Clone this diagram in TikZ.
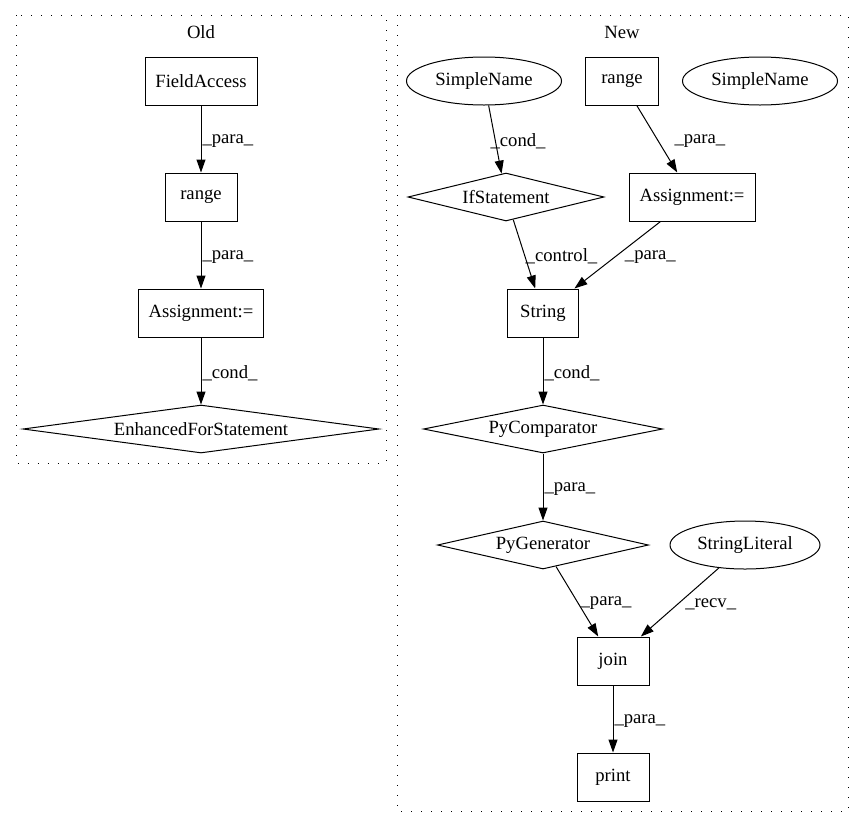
\documentclass[tikz,border=0pt]{standalone}
\usepackage{fontspec}
\setmainfont{Liberation Serif}
\usetikzlibrary{arrows.meta,shapes.geometric}

\begin{document}
\begin{tikzpicture}[
    x=1pt, y=-1pt,
    font=\fontsize{18.67}{22}\selectfont,
    box/.style={draw, rectangle, line width=1pt, inner sep=0pt, minimum height=48pt},
    oval/.style={draw, ellipse, line width=1pt, inner sep=0pt, minimum width=155pt, minimum height=48pt},
    rhombus/.style={draw, diamond, line width=1pt, inner sep=0pt, aspect=5, minimum height=48pt},
    edge/.style={-{Triangle[length=13pt,width=9pt]}, line width=1pt},
    elabel/.style={anchor=west, inner sep=1pt},
    cluster/.style={line width=1pt, dash pattern=on 1.3pt off 8.7pt},
]
    \useasboundingbox (0,0) rectangle (864,828);

    % Old
    \draw[cluster] (16,15) rectangle (386,463);
    \node (oldtitle) at (201,32) {Old};
    \node[box, minimum width=112pt] (fa) at (201,81) {FieldAccess};
    \node[box, minimum width=72pt] (rangeO) at (201,197) {range};
    \node[box, minimum width=125pt] (assignO) at (201,313) {Assignment:=};
    \node[rhombus, aspect=8, minimum width=356pt] (efor) at (201,429) {EnhancedForStatement};

    % New
    \draw[cluster] (397,15) rectangle (848,811);
    \node (newtitle) at (622,32) {New};
    \node[oval] (sn1) at (484,81) {SimpleName};
    \node[box, minimum width=73pt] (rangeN) at (622,81) {range};
    \node[oval] (sn2) at (760,81) {SimpleName};
    \node[rhombus, minimum width=196pt] (ifst) at (506,197) {IfStatement};
    \node[box, minimum width=126pt] (assignN) at (692,197) {Assignment:=};
    \node[box, minimum width=71pt] (str) at (543,313) {String};
    \node[rhombus, minimum width=239pt] (pycomp) at (543,429) {PyComparator};
    \node[rhombus, minimum width=211pt] (pygen) at (543,545) {PyGenerator};
    \node[oval, minimum width=150pt] (strlit) at (745,545) {StringLiteral};
    \node[box, minimum width=72pt] (join) at (613,661) {join};
    \node[box, minimum width=72pt] (print) at (613,777) {print};

    \foreach \a/\b/\l/\dx in {fa/rangeO/para/0, rangeO/assignO/para/0, assignO/efor/cond/0,
                              sn1/ifst/cond/-6, rangeN/assignN/para/16, ifst/str/control/0,
                              assignN/str/para/6, str/pycomp/cond/0, pycomp/pygen/para/0,
                              pygen/join/para/2, strlit/join/recv/4, join/print/para/0}
        \draw[edge] (\a) -- node[elabel, xshift=\dx pt, yshift=-2pt] (lbl-\a-\b) {\_\l\_} (\b);
\end{tikzpicture}
\end{document}
